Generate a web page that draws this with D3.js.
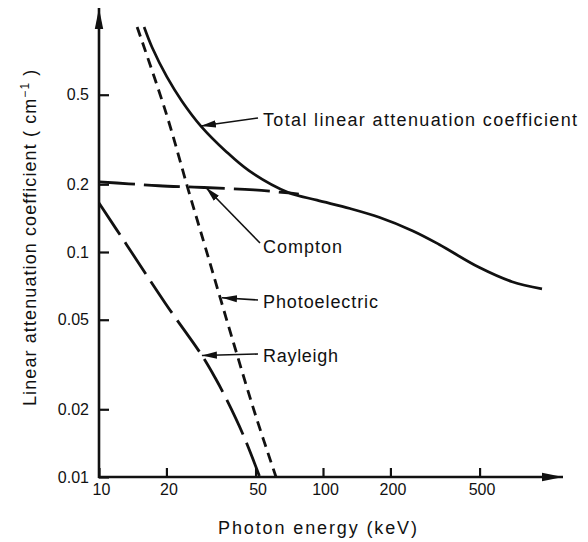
<!DOCTYPE html>
<html>
<head>
<meta charset="utf-8">
<script src="https://cdn.jsdelivr.net/npm/d3@7"></script>
<style>
  html, body { margin: 0; padding: 0; background: #fff; }
  svg { display: block; }
</style>
</head>
<body>
<svg id="chart" width="588" height="542"></svg>
<script>
// ---------------- DATA ----------------
const xTicks = [10, 20, 50, 100, 200, 500];
const xTickLabels = ["10", "20", "50", "100", "200", "500"];
const yTicks = [0.01, 0.02, 0.05, 0.1, 0.2, 0.5];
const yTickLabels = ["0.01", "0.02", "0.05", "0.1", "0.2", "0.5"];

// Total linear attenuation coefficient (solid)
const totalEnergy = [15.9, 17.25, 20.1, 23.5, 28.5, 36.9, 46.7, 70, 94, 132, 178, 252, 330, 497, 698, 950];
const totalValue  = [1.0, 0.813, 0.60, 0.467, 0.363, 0.28, 0.23, 0.184, 0.17, 0.156, 0.1426, 0.124, 0.108, 0.0855, 0.0738, 0.0686];

// Compton (long dashes)
const comptonEnergy = [10, 13.6, 18.5, 29.4, 49.3, 70, 78];
const comptonValue  = [0.205, 0.201, 0.197, 0.1935, 0.1887, 0.183, 0.181];

// Photoelectric (short dashes)
const photoEnergy = [14.8, 20, 25, 30, 40, 50, 61.7];
const photoValue  = [1.0, 0.41, 0.19, 0.103, 0.039, 0.0188, 0.01];

// Rayleigh (long dashes, short gaps)
const rayleighEnergy = [10, 13.3, 19.9, 28.8, 33, 37.3, 44.4, 52];
const rayleighValue  = [0.165, 0.1075, 0.0586, 0.0347, 0.0276, 0.0219, 0.0151, 0.0101];

// Annotations: label and the point on the curve the arrow points to
const annoLabels = ["Total linear attenuation coefficient", "Compton", "Photoelectric", "Rayleigh"];
const annoEnergy = [28.5, 30, 35.4, 28.8];
const annoValue  = [0.363, 0.1935, 0.0626, 0.0347];

const xTitle = "Photon energy (keV)";
const yTitleMain = "Linear attenuation coefficient ( cm";
const yTitleSup = "\u22121";
const yTitleEnd = " )";

// ---------------- LAYOUT ----------------
const svg = d3.select("#chart");
const x = d3.scaleLog().domain([10, 1000]).range([99, 547]);
const y = d3.scaleLog().domain([0.01, 1]).range([477, 27]);
const FONT = "'Liberation Sans', Arial, sans-serif";
const INK = "#111";

const defs = svg.append("defs");
defs.append("marker")
  .attr("id", "ahead").attr("markerUnits", "userSpaceOnUse")
  .attr("viewBox", "0 -5 16 10").attr("refX", 15).attr("refY", 0)
  .attr("markerWidth", 16).attr("markerHeight", 10).attr("orient", "auto")
  .append("path").attr("d", "M0,-3.6L15,0L0,3.6Z").attr("fill", INK);
defs.append("marker")
  .attr("id", "axhead").attr("markerUnits", "userSpaceOnUse")
  .attr("viewBox", "0 -6 22 12").attr("refX", 21).attr("refY", 0)
  .attr("markerWidth", 22).attr("markerHeight", 12).attr("orient", "auto")
  .append("path").attr("d", "M0,-4.2L21,0L0,4.2Z").attr("fill", INK);

// Axes (ticks + labels via d3 axes)
const xAxis = d3.axisBottom(x).tickValues(xTicks)
  .tickFormat((d, i) => xTickLabels[i]).tickSizeInner(-9).tickSizeOuter(0).tickPadding(7);
const gx = svg.append("g").attr("transform", `translate(0,${y(0.01)})`).call(xAxis);
gx.select(".domain").remove();
gx.selectAll(".tick line").attr("stroke", INK).attr("stroke-width", 2.2);
gx.selectAll(".tick text").attr("fill", INK).style("font-family", FONT).style("font-size", "16px")
  .attr("dx", 2);

const yAxis = d3.axisLeft(y).tickValues(yTicks)
  .tickFormat((d, i) => yTickLabels[i]).tickSizeInner(-10).tickSizeOuter(0).tickPadding(10);
const gy = svg.append("g").attr("transform", `translate(${x(10)},0)`).call(yAxis);
gy.select(".domain").remove();
gy.selectAll(".tick line").attr("stroke", INK).attr("stroke-width", 2.2);
gy.selectAll(".tick text").attr("fill", INK).style("font-family", FONT).style("font-size", "16px");

// Axis lines with arrows
svg.append("line").attr("x1", x(10)).attr("y1", y(0.01) + 1).attr("x2", x(10)).attr("y2", 8)
  .attr("stroke", INK).attr("stroke-width", 2.6).attr("marker-end", "url(#axhead)");
svg.append("line").attr("x1", x(10) - 1).attr("y1", y(0.01)).attr("x2", 563).attr("y2", y(0.01))
  .attr("stroke", INK).attr("stroke-width", 2.6).attr("marker-end", "url(#axhead)");

// Curves
const line = d3.line().x(d => x(d[0])).y(d => y(d[1])).curve(d3.curveCatmullRom.alpha(0.5));
function series(es, vs) { return es.map((e, i) => [e, vs[i]]); }

svg.append("path").datum(series(comptonEnergy, comptonValue)).attr("d", line)
  .attr("fill", "none").attr("stroke", INK).attr("stroke-width", 2.8)
  .attr("stroke-dasharray", "36,9");
svg.append("path").datum(series(rayleighEnergy, rayleighValue)).attr("d", line)
  .attr("fill", "none").attr("stroke", INK).attr("stroke-width", 2.8)
  .attr("stroke-dasharray", "38,9");
svg.append("path").datum(series(photoEnergy, photoValue)).attr("d", line)
  .attr("fill", "none").attr("stroke", INK).attr("stroke-width", 2.8)
  .attr("stroke-dasharray", "10,6.5");
svg.append("path").datum(series(totalEnergy, totalValue)).attr("d", line)
  .attr("fill", "none").attr("stroke", INK).attr("stroke-width", 2.7);

// Annotations (text layout in pixels, arrow tips on the curves)
const annoTextX = [263, 263, 263, 263];
const annoTextY = [126, 253, 308, 362];
const annoTailX = [258, 260, 258, 258];
const annoTailY = [118, 243, 300, 354];
const annoWidth = [314, 79, 115, 75];
annoLabels.forEach((lab, i) => {
  svg.append("line")
    .attr("x1", annoTailX[i]).attr("y1", annoTailY[i])
    .attr("x2", x(annoEnergy[i])).attr("y2", y(annoValue[i]))
    .attr("stroke", INK).attr("stroke-width", 1.6).attr("marker-end", "url(#ahead)");
  svg.append("text").attr("x", annoTextX[i]).attr("y", annoTextY[i])
    .attr("fill", INK).style("font-family", FONT).style("font-size", "18px")
    .attr("textLength", annoWidth[i]).attr("lengthAdjust", "spacing")
    .text(lab);
});

// Axis titles
svg.append("text").attr("x", 218).attr("y", 534)
  .attr("fill", INK).style("font-family", FONT).style("font-size", "18px")
  .attr("textLength", 199).attr("lengthAdjust", "spacing")
  .text(xTitle);

const yt = svg.append("text")
  .attr("transform", "translate(36,406) rotate(-90)")
  .attr("x", 0).attr("y", 0)
  .attr("fill", INK).style("font-family", FONT).style("font-size", "18px")
  .style("letter-spacing", "1.1px");
yt.append("tspan").text(yTitleMain);
yt.append("tspan").attr("dy", -7).style("font-size", "12px").text(yTitleSup);
yt.append("tspan").attr("dy", 7).text(yTitleEnd);
</script>
</body>
</html>
